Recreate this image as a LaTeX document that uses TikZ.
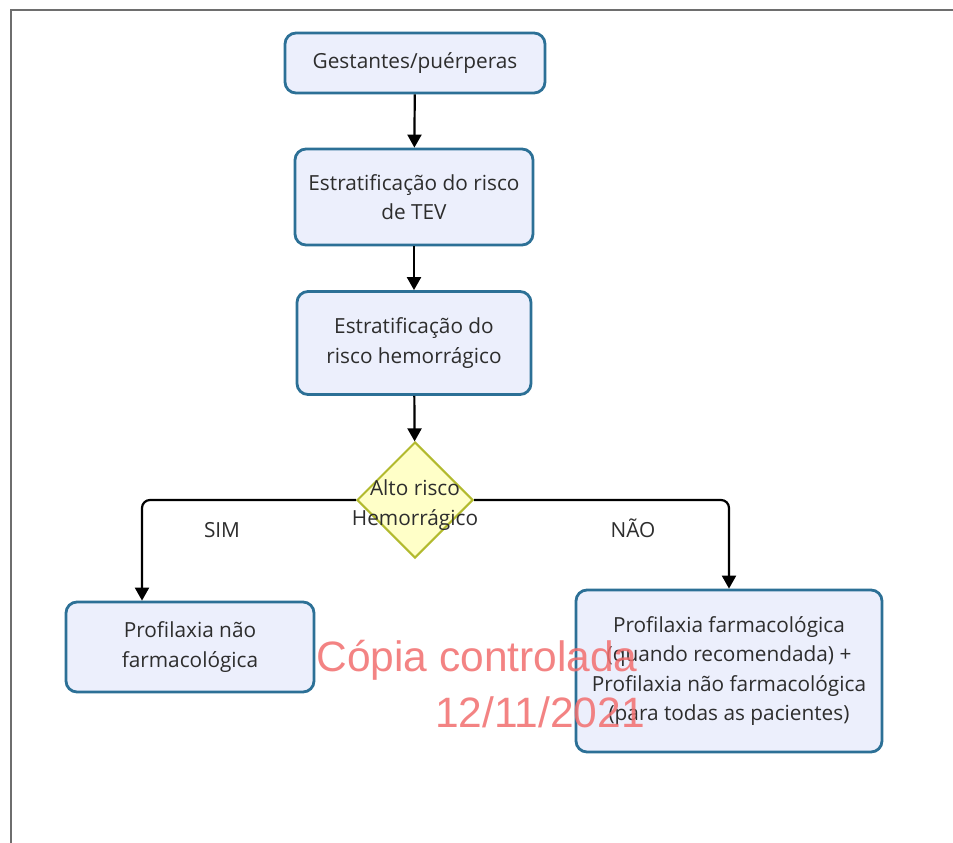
\documentclass[tikz,border=0pt]{standalone}
\usepackage{fontspec}
\setmainfont{Open Sans}
\newfontfamily\markfont{Liberation Sans}
\usetikzlibrary{positioning,shapes.geometric,arrows.meta}
\definecolor{boxline}{RGB}{44,112,150}
\definecolor{boxfill}{RGB}{236,239,252}
\definecolor{decline}{RGB}{178,186,46}
\definecolor{decfill}{RGB}{255,255,200}
\definecolor{txtgray}{RGB}{45,45,45}
\definecolor{framegray}{RGB}{110,110,110}
\definecolor{stampred}{RGB}{242,110,110}
\tikzset{
  stepbox/.style={draw=boxline, line width=2.8pt, rounded corners=11pt, fill=boxfill, align=center, text=txtgray, inner sep=0pt},
  decision/.style={draw=decline, line width=2pt, diamond, fill=decfill, minimum width=116pt, minimum height=116pt, inner sep=0pt},
  dectext/.style={align=center, text=txtgray},
  arrow/.style={-{Triangle[width=14pt,length=13pt]}, line width=2.2pt},
  branch/.style={text=txtgray},
  stamp/.style={font=\markfont\fontsize{42.5}{42.5}\selectfont, text=stampred, opacity=0.85}
}

\begin{document}
\begin{tikzpicture}[x=1pt, y=-1pt, font=\fontsize{20.8}{29.5}\selectfont]
  \useasboundingbox[fill=white] (0,0) rectangle (953,843);
  \draw[framegray, line width=2pt] (953,10) -- (11,10) -- (11,843);

  \node[stepbox, minimum width=260pt, minimum height=60pt] (gest) at (415,63) {Gestantes/puérperas};
  \node[stepbox, minimum width=238pt, minimum height=96pt] (tev) at (414,197) {Estratificação do risco\\de TEV};
  \node[stepbox, minimum width=234pt, minimum height=103pt] (hem) at (414,343) {Estratificação do\\risco hemorrágico};
  \node[decision, label={[dectext, yshift=-5pt]center:Alto risco\\Hemorrágico}] (alto) at (415,500) {};

  \node[stepbox, minimum width=248pt, minimum height=90pt] (naofarm) at (190,647) {Profilaxia não\\farmacológica};
  \node[stepbox, minimum width=306pt, minimum height=162pt] (farm) at (729,671) {Profilaxia farmacológica\\(quando recomendada) +\\Profilaxia não farmacológica\\(para todas as pacientes)};

  \draw[arrow] (gest) -- (tev);
  \draw[arrow] (tev) -- (hem);
  \draw[arrow] (hem) -- (alto);
  \draw[arrow, rounded corners=8pt] (alto.west) -| ([xshift=-48pt]naofarm.north);
  \draw[arrow, rounded corners=8pt] (alto.east) -| (farm.north);

  \node[branch] (sim) at (222,530) {SIM};
  \node[branch] (nao) at (633,528) {NÃO};

  % marca d'agua
  \node[stamp] (copia) at (477,660) {Cópia controlada};
  \node[stamp] (data) at (540,712) {12/11/2021};
\end{tikzpicture}
\end{document}
